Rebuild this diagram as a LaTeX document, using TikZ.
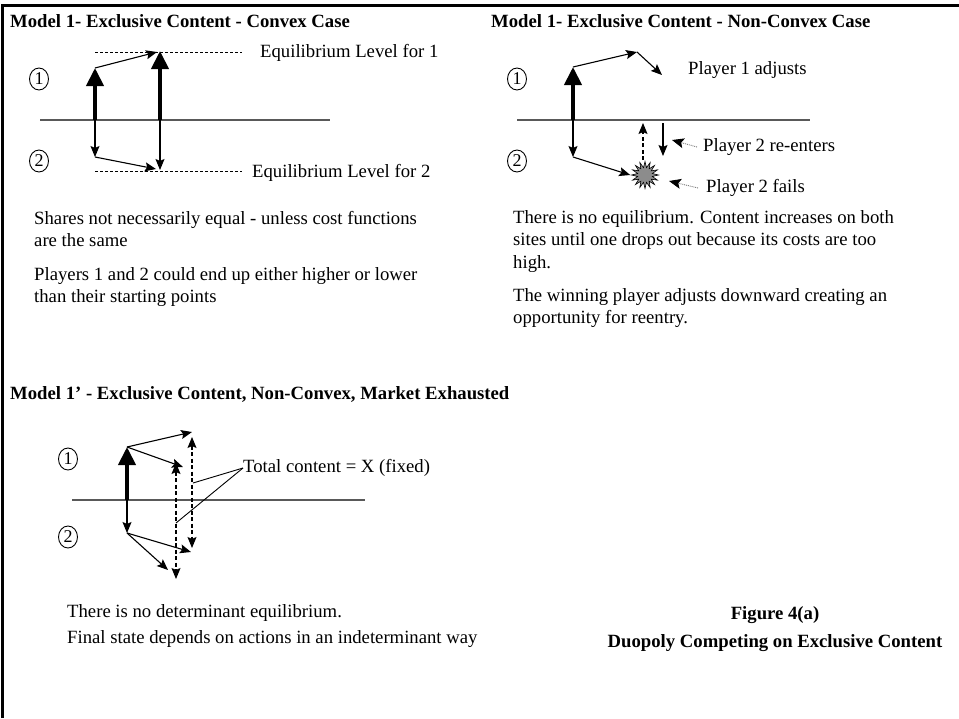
\documentclass[tikz,border=0pt]{standalone}
\usepackage{fontspec}
\setmainfont{Liberation Serif}
\usetikzlibrary{arrows.meta,shapes.geometric}
\begin{document}
\begin{tikzpicture}[x=1pt,y=-1pt,
  txt/.style={inner sep=0pt, anchor=west, font=\fontsize{18.7}{22}\selectfont},
  para/.style={inner sep=0pt, anchor=north west, align=left, font=\fontsize{18.7}{22.5}\selectfont},
  ttl/.style={inner sep=0pt, anchor=west, font=\fontsize{18.7}{22}\selectfont\bfseries},
  num/.style={ellipse, draw, line width=0.9pt, inner sep=0pt, minimum width=19pt, minimum height=22pt, font=\fontsize{18}{18}\selectfont},
  axisline/.style={draw=black!65, line width=1.3pt},
  bigarrow/.style={line width=4pt, -{Triangle[width=17pt,length=18pt]}},
  thinarrow/.style={line width=1.1pt, -{Stealth[width=9pt,length=11pt,inset=2pt]}},
  dashline/.style={line width=0.9pt, dash pattern=on 3pt off 2pt},
  dasharrow/.style={line width=1.1pt, dash pattern=on 4pt off 2.5pt, -{Stealth[width=9pt,length=11pt,inset=2pt]}},
  dashdouble/.style={line width=1.1pt, dash pattern=on 4pt off 2.5pt, {Stealth[width=9pt,length=11pt,inset=2pt]}-{Stealth[width=9pt,length=11pt,inset=2pt]}},
  pointer/.style={draw=black!55, line width=0.9pt, densely dotted, -{Stealth[width=10pt,length=12pt,inset=2.5pt,color=black]}},
  leader/.style={line width=0.9pt}
]
\useasboundingbox (0,0) rectangle (959,718);
% frame (top and left edges only)
\draw[line width=3pt] (2,718) -- (2,5) -- (959,5);

% ---------------- Panel 1 ----------------
\node[ttl] (t1) at (10,21) {Model 1- Exclusive Content - Convex Case};
\node[num] (n1a) at (39,79) {1};
\node[num] (n1b) at (39,161) {2};
\coordinate (a1L) at (40,120);
\coordinate (a1R) at (330,120);
\draw[axisline] (a1L) -- (a1R);
\coordinate (b1) at (95,120);
\coordinate (b2) at (160,120);
\coordinate (u1) at (95,68);
\coordinate (u2) at (160,51);
\coordinate (u2t) at (157,52);
\coordinate (d1) at (95,157);
\coordinate (d2) at (160,170);
\coordinate (d2t) at (156,169);
\coordinate (q1s) at (95,52);
\coordinate (q2s) at (95,171);
\node[txt] (eq1) at (260,53) {Equilibrium Level for 1};
\node[txt] (eq2) at (252,173) {Equilibrium Level for 2};
\draw[dashline] (q1s) -- ([xshift=-18pt]eq1.west |- q1s);
\draw[dashline] (q2s) -- ([xshift=-10pt]eq2.west |- q2s);
\draw[bigarrow] (b1) -- (u1);
\draw[bigarrow] (b2) -- (u2);
\draw[thinarrow] (u1) -- (u2t);
\draw[thinarrow] (b1) -- (d1);
\draw[thinarrow] (b2) -- (d2);
\draw[thinarrow] (d1) -- (d2t);
\node[para] (p1a) at (34,211) {Shares not necessarily equal - unless cost functions\\are the same};
\node[para] (p1b) at (34,267) {Players 1 and 2 could end up either higher or lower\\than their starting points};

% ---------------- Panel 2 ----------------
\node[ttl] (t2) at (491,21) {Model 1- Exclusive Content - Non-Convex Case};
\node[num] (n2a) at (517,79) {1};
\node[num] (n2b) at (517,161) {2};
\coordinate (a2L) at (517,120);
\coordinate (a2R) at (810,120);
\draw[axisline] (a2L) -- (a2R);
\coordinate (c0) at (573,120);
\coordinate (c1) at (573,67);
\coordinate (c2) at (637,52);
\coordinate (c3) at (662,75);
\coordinate (c4) at (573,157);
\node[star, star points=16, star point ratio=1.8, minimum size=27pt, inner sep=0pt,
      fill=black!45, draw, line width=0.6pt] (burst) at (645,175) {};
\coordinate (up2) at (643,123);
\coordinate (re1) at (663,123);
\coordinate (re2) at (663,156);
\node[txt] (adj) at (688,70) {Player 1 adjusts};
\node[txt] (reent) at (703,147) {Player 2 re-enters};
\node[txt] (fails) at (706,188) {Player 2 fails};
\coordinate (pt1) at (672,140);
\coordinate (pt2) at (669,181);
\draw[bigarrow] (c0) -- (c1);
\draw[thinarrow] (c1) -- (c2);
\draw[thinarrow] (c2) -- (c3);
\draw[thinarrow] (c0) -- (c4);
\draw[thinarrow] (c4) -- (burst.west);
\draw[dasharrow] (burst.north -| up2) -- (up2);
\draw[thinarrow] (re1) -- (re2);
\draw[pointer] ([xshift=-6pt]reent.west) -- (pt1);
\draw[pointer] ([xshift=-8pt]fails.west) -- (pt2);
\node[para] (p2a) at (513,210) {There is no equilibrium. Content increases on both\\sites until one drops out because its costs are too\\high.};
\node[para] (p2b) at (513,288) {The winning player adjusts downward creating an\\opportunity for reentry.};

% ---------------- Panel 3 ----------------
\node[ttl] (t3) at (10,394) {Model 1’ - Exclusive Content, Non-Convex, Market Exhausted};
\node[num] (n3a) at (68,459) {1};
\node[num] (n3b) at (68,537) {2};
\coordinate (a3L) at (72,500);
\coordinate (a3R) at (365,500);
\draw[axisline] (a3L) -- (a3R);
\coordinate (e0) at (127,500);
\coordinate (e1) at (127,447);
\coordinate (e2) at (127,533);
\coordinate (f1) at (192,432);
\coordinate (f2) at (183,467);
\coordinate (f3) at (191,552);
\coordinate (f4) at (168,570);
\coordinate (g1t) at (176,463);
\coordinate (g1b) at (176,579);
\coordinate (g2t) at (192,437);
\coordinate (g2b) at (192,548);
\coordinate (h1) at (193,483);
\coordinate (h2) at (176,523);
\node[txt] (tc) at (243,468) {Total content = X (fixed)};
\draw[bigarrow] (e0) -- (e1);
\draw[thinarrow] (e1) -- (f1);
\draw[thinarrow] (e1) -- (f2);
\draw[thinarrow] (e0) -- (e2);
\draw[thinarrow] (e2) -- (f3);
\draw[thinarrow] (e2) -- (f4);
\draw[dashdouble] (g1t) -- (g1b);
\draw[dashdouble] (g2t) -- (g2b);
\draw[leader] (tc.west) -- (h1);
\draw[leader] (tc.west) -- (h2);
\node[txt] (p3a) at (67,613) {There is no determinant equilibrium.};
\node[txt] (p3b) at (67,639) {Final state depends on actions in an indeterminant way};

% ---------------- Caption ----------------
\node[ttl, anchor=center] (fig) at (775,615) {Figure 4(a)};
\node[ttl, anchor=center] (cap) at (775,643) {Duopoly Competing on Exclusive Content};
\end{tikzpicture}
\end{document}
